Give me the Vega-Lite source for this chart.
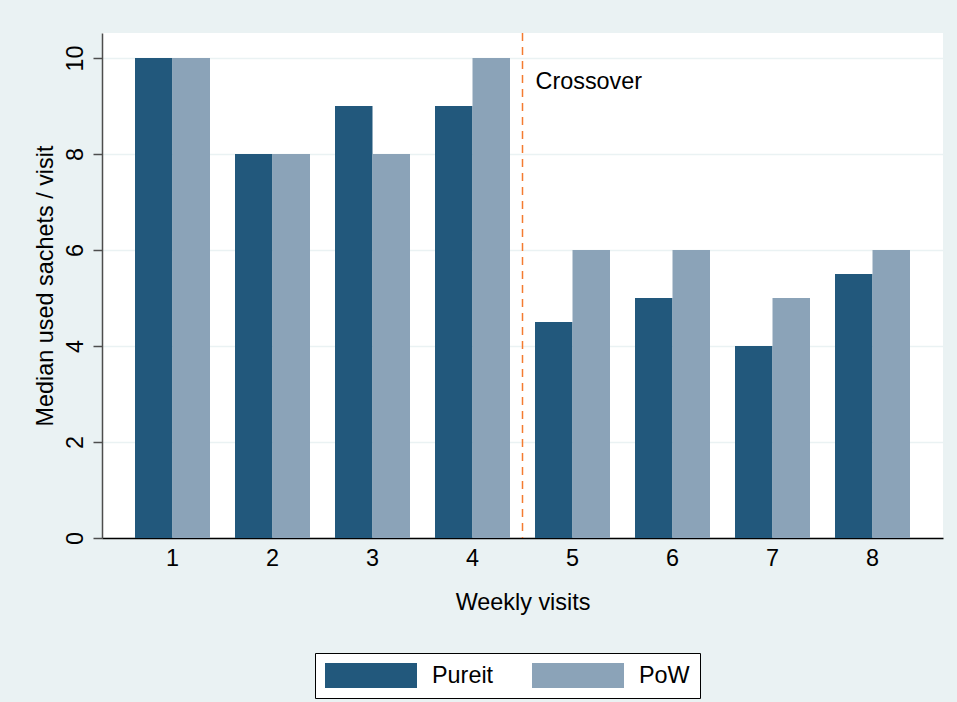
{
  "$schema": "https://vega.github.io/schema/vega-lite/v6.json",
  "width": 841,
  "height": 505,
  "autosize": {"type": "none"},
  "padding": {"left": 102, "top": 33, "right": 14, "bottom": 164},
  "background": "#eaf2f3",
  "config": {
    "font": "Liberation Sans",
    "view": {"stroke": null, "fill": "white"}
  },
  "datasets": {
    "bars": [
      {"visit": 1, "group": "Pureit", "median": 10},
      {"visit": 1, "group": "PoW", "median": 10},
      {"visit": 2, "group": "Pureit", "median": 8},
      {"visit": 2, "group": "PoW", "median": 8},
      {"visit": 3, "group": "Pureit", "median": 9},
      {"visit": 3, "group": "PoW", "median": 8},
      {"visit": 4, "group": "Pureit", "median": 9},
      {"visit": 4, "group": "PoW", "median": 10},
      {"visit": 5, "group": "Pureit", "median": 4.5},
      {"visit": 5, "group": "PoW", "median": 6},
      {"visit": 6, "group": "Pureit", "median": 5},
      {"visit": 6, "group": "PoW", "median": 6},
      {"visit": 7, "group": "Pureit", "median": 4},
      {"visit": 7, "group": "PoW", "median": 5},
      {"visit": 8, "group": "Pureit", "median": 5.5},
      {"visit": 8, "group": "PoW", "median": 6}
    ],
    "marker": [{"visit": 4, "y": 9.5, "label": "Crossover"}]
  },
  "layer": [
    {
      "data": {"name": "bars"},
      "mark": {"type": "bar", "strokeWidth": 0},
      "encoding": {
        "x": {
          "field": "visit",
          "type": "ordinal",
          "scale": {"paddingInner": 0.25, "paddingOuter": 0.33},
          "axis": {
            "title": "Weekly visits",
            "labelAngle": 0,
            "labelFontSize": 23.4,
            "labelColor": "black",
            "labelPadding": 9,
            "ticks": false,
            "domainColor": "black",
            "domainWidth": 1.5,
            "titleFontSize": 23.4,
            "titleFontWeight": "normal",
            "titleColor": "black",
            "titlePadding": 22
          }
        },
        "xOffset": {
          "field": "group",
          "type": "nominal",
          "sort": ["Pureit", "PoW"],
          "scale": {"paddingInner": 0, "paddingOuter": 0}
        },
        "y": {
          "field": "median",
          "type": "quantitative",
          "scale": {"domain": [0, 10.52], "nice": false},
          "axis": {
            "title": "Median used sachets / visit",
            "values": [0, 2, 4, 6, 8, 10],
            "labelAngle": -90,
            "labelAlign": "center",
            "labelBaseline": "alphabetic",
            "labelFontSize": 23.4,
            "labelColor": "black",
            "labelPadding": 11,
            "tickSize": 9,
            "tickColor": "#4d4d4d",
            "tickWidth": 1.5,
            "domainColor": "#4d4d4d",
            "domainWidth": 1.5,
            "gridColor": "#eaf2f3",
            "gridWidth": 1.5,
            "titleFontSize": 23.4,
            "titleFontWeight": "normal",
            "titleColor": "black",
            "titlePadding": 6
          }
        },
        "color": {
          "field": "group",
          "type": "nominal",
          "sort": ["Pureit", "PoW"],
          "scale": {"domain": ["Pureit", "PoW"], "range": ["#22587c", "#8ba3b8"]},
          "legend": {
            "title": null,
            "orient": "none",
            "legendX": 213,
            "legendY": 620,
            "direction": "horizontal",
            "columns": 2,
            "symbolType": "M-1,-0.27H1V0.27H-1Z",
            "symbolSize": 8464,
            "symbolStrokeWidth": 0,
            "symbolOpacity": 1,
            "clipHeight": 25,
            "labelFontSize": 23.4,
            "labelColor": "black",
            "labelOffset": 15,
            "columnPadding": 38,
            "padding": 10,
            "fillColor": "white",
            "strokeColor": "black"
          }
        }
      }
    },
    {
      "data": {"name": "marker"},
      "mark": {"type": "rule", "xOffset": 50, "color": "#f47b30", "strokeWidth": 1.5, "strokeDash": [8, 6]},
      "encoding": {
        "x": {"field": "visit", "type": "ordinal"}
      }
    },
    {
      "data": {"name": "marker"},
      "mark": {"type": "text", "xOffset": 63, "align": "left", "baseline": "middle", "fontSize": 23.4, "color": "black"},
      "encoding": {
        "x": {"field": "visit", "type": "ordinal"},
        "y": {"field": "y", "type": "quantitative"},
        "text": {"field": "label"}
      }
    }
  ]
}
